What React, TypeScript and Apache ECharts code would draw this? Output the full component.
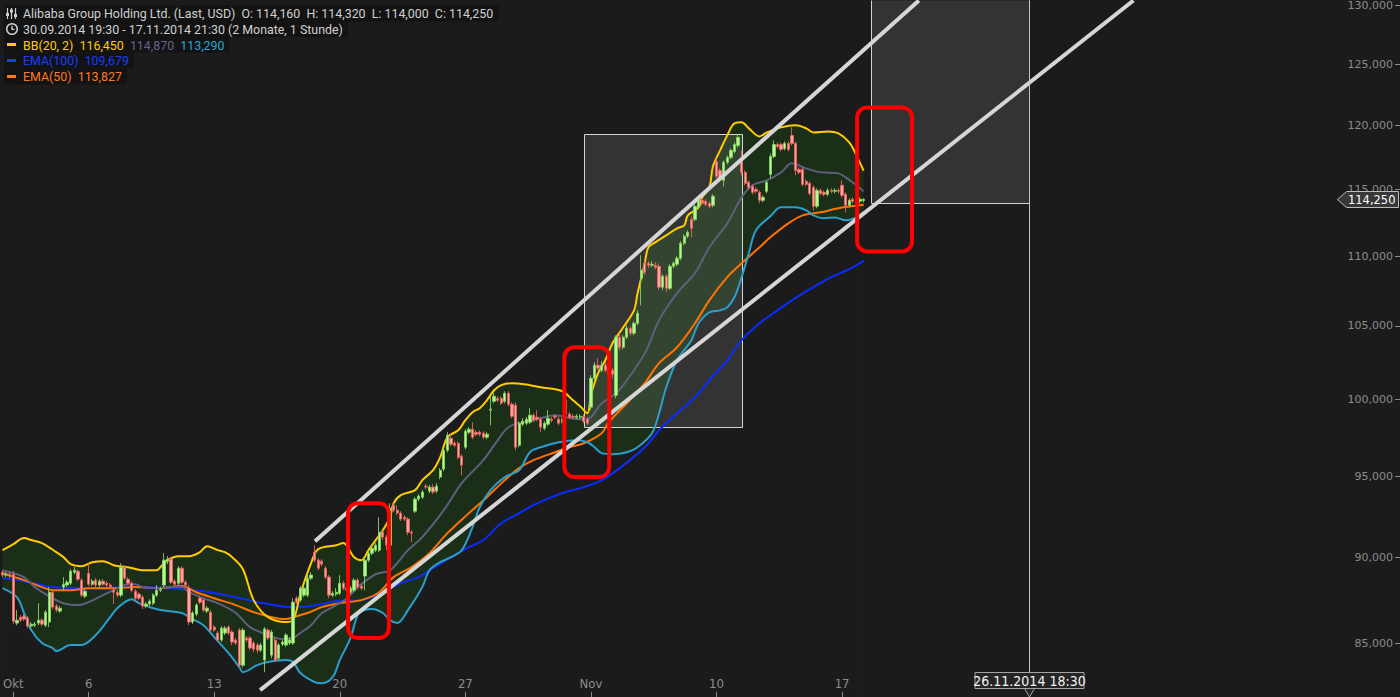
import React, { useEffect, useRef } from 'react';
import * as echarts from 'echarts';

// ---------- data (prices in USD, hourly bars, index 0 = 30.09.2014 19:30) ----------
// each candle: [open, close, low, high]
const candles: number[][] = [
  // Sep 30
  [89.11, 88.94, 88.82, 89.23], [88.94, 88.99, 88.82, 89.11], [88.99, 88.88, 88.76, 89.11],
  // Oct 1
  [88.99, 86.25, 86.08, 89.17], [86.14, 86.31, 86.02, 86.89], [86.48, 86.31, 86.2, 86.6], [86.54, 86.37, 86.25, 86.66],
  [86.43, 85.97, 85.85, 86.54], [85.97, 86.08, 85.85, 86.2], [86.02, 86.08, 85.91, 86.2],
  // Oct 2
  [86.14, 86.31, 86.02, 87.29], [86.31, 86.08, 85.97, 86.43], [86.02, 86.77, 85.91, 86.89], [86.2, 87.93, 85.91, 88.23],
  [87.93, 87.06, 86.95, 88.05], [87.12, 86.89, 86.77, 87.24], [86.83, 87.0, 86.72, 87.12],
  // Oct 3
  [88.23, 88.4, 88.05, 88.82], [88.35, 88.52, 88.23, 88.64], [88.46, 89.17, 88.35, 89.29], [89.11, 89.23, 88.99, 89.41],
  [89.17, 88.7, 88.58, 89.29], [88.64, 87.76, 87.64, 88.76], [87.7, 87.99, 87.58, 88.11],
  // Oct 6
  [89.05, 88.4, 88.29, 89.65], [88.4, 88.58, 88.29, 88.7], [88.64, 88.35, 88.23, 88.76], [88.35, 88.58, 88.23, 88.7],
  [88.58, 88.4, 88.29, 88.7], [88.46, 88.35, 88.17, 88.58], [88.35, 88.23, 88.11, 88.46],
  // Oct 7
  [88.05, 87.93, 87.24, 88.23], [87.93, 87.76, 87.64, 88.05], [87.76, 89.41, 87.64, 89.65], [89.41, 88.76, 88.64, 89.53],
  [88.7, 88.46, 88.35, 88.82], [88.46, 88.05, 87.93, 88.58], [87.99, 87.58, 87.35, 88.11],
  // Oct 8
  [87.82, 87.58, 87.47, 87.93], [87.64, 87.12, 86.95, 87.76], [87.12, 87.24, 87.0, 87.35], [87.24, 87.41, 87.12, 87.52],
  [87.29, 87.76, 87.18, 87.87], [87.76, 88.05, 87.64, 88.35], [88.05, 88.11, 87.93, 88.23],
  // Oct 9
  [88.35, 89.83, 88.23, 90.25], [89.77, 89.89, 89.59, 90.07], [89.89, 88.52, 88.4, 90.01], [88.58, 88.4, 88.29, 88.7],
  [88.46, 89.35, 88.35, 89.47], [89.35, 88.52, 88.4, 89.47], [88.52, 88.35, 88.23, 88.64],
  // Oct 10
  [88.17, 86.2, 86.02, 88.35], [86.2, 86.72, 86.08, 86.83], [86.66, 87.18, 86.54, 87.29], [87.58, 87.35, 87.24, 87.7],
  [87.47, 86.89, 86.77, 87.58], [86.83, 87.0, 86.72, 87.12], [86.77, 85.74, 85.63, 86.89],
  // Oct 13
  [85.91, 85.74, 85.63, 86.02], [85.57, 85.17, 85.06, 85.68], [85.17, 85.85, 85.06, 85.97], [85.57, 85.85, 85.46, 85.97],
  [85.91, 85.57, 85.46, 86.02], [85.63, 85.06, 84.89, 85.74], [85.17, 85.0, 84.89, 85.29],
  // Oct 14
  [85.74, 83.76, 83.65, 85.85], [83.76, 85.74, 83.65, 85.85], [85.29, 85.17, 85.06, 85.4], [85.29, 84.72, 84.6, 85.4],
  [85.0, 84.66, 84.49, 85.11], [84.89, 84.6, 84.43, 85.0], [84.6, 84.89, 84.49, 85.0],
  // Oct 15
  [84.04, 85.8, 83.37, 85.91], [85.74, 85.29, 85.17, 85.85], [84.32, 85.63, 84.15, 85.74], [85.17, 84.04, 83.93, 85.29],
  [84.15, 84.89, 84.04, 85.0], [84.94, 85.06, 84.83, 85.17], [84.89, 85.46, 84.77, 85.57],
  // Oct 16
  [85.0, 85.17, 84.89, 85.34], [85.0, 87.35, 84.89, 87.58], [87.58, 87.35, 87.24, 87.7], [87.47, 88.17, 87.35, 88.29],
  [87.76, 88.17, 87.64, 88.29], [87.76, 88.76, 87.64, 88.94], [88.76, 88.94, 88.64, 89.11],
  // Oct 17
  [90.31, 89.83, 89.71, 90.73], [89.83, 89.35, 89.23, 89.95], [89.77, 89.59, 89.47, 89.89], [89.35, 88.82, 88.7, 89.47],
  [88.82, 87.76, 87.58, 88.94], [87.76, 87.87, 87.64, 87.99], [87.82, 87.93, 87.7, 88.17],
  // Oct 20
  [87.87, 88.46, 87.76, 88.94], [88.46, 88.17, 88.05, 88.58], [88.17, 88.05, 87.93, 88.29], [87.93, 88.17, 87.82, 88.29],
  [88.05, 88.64, 87.93, 88.76], [88.64, 88.23, 88.11, 88.76], [88.29, 88.17, 88.05, 88.4],
  // Oct 21
  [88.88, 89.83, 88.05, 89.95], [89.83, 90.25, 89.71, 90.37], [90.25, 90.55, 90.13, 90.67], [90.43, 90.73, 90.31, 90.86],
  [90.43, 91.52, 90.31, 92.44], [91.52, 91.22, 91.04, 91.64], [91.22, 90.73, 90.43, 91.34],
  // Oct 22
  [90.73, 92.99, 90.55, 93.3], [93.18, 92.87, 92.75, 93.3], [92.87, 92.69, 92.56, 93.18], [92.69, 92.32, 92.2, 92.81],
  [92.44, 92.32, 92.2, 92.56], [92.32, 91.52, 91.34, 92.44], [91.52, 91.46, 90.92, 91.64],
  // Oct 23
  [92.81, 93.56, 92.69, 93.68], [93.56, 93.75, 93.43, 93.87], [93.68, 94.0, 93.56, 94.12], [94.37, 94.31, 94.18, 94.5],
  [94.06, 94.31, 93.93, 94.44], [94.31, 94.0, 93.87, 94.5], [94.06, 94.37, 93.93, 94.56],
  // Oct 24
  [94.94, 95.38, 94.81, 95.51], [95.45, 96.66, 95.32, 96.79], [96.66, 97.63, 96.53, 97.82], [97.43, 97.05, 96.92, 97.69],
  [97.11, 96.98, 96.85, 97.24], [97.11, 96.21, 96.08, 97.24], [96.27, 95.7, 95.07, 96.4],
  // Oct 27
  [96.85, 97.89, 96.72, 98.02], [97.82, 98.02, 97.69, 98.15], [98.02, 97.5, 97.37, 98.48], [97.82, 97.69, 97.56, 97.95],
  [97.82, 97.69, 97.56, 97.95], [97.76, 97.5, 97.37, 97.89], [97.5, 97.69, 97.37, 97.82],
  // Oct 28
  [99.27, 99.34, 98.28, 100.26], [99.86, 100.2, 99.73, 100.46], [100.06, 99.93, 99.8, 100.2], [100.06, 99.73, 99.6, 100.2],
  [99.86, 100.4, 99.73, 100.53], [100.4, 99.66, 99.53, 100.53], [99.66, 98.87, 98.74, 99.8],
  // Oct 29
  [99.6, 96.85, 96.66, 99.8], [96.98, 98.41, 96.85, 98.54], [98.35, 98.54, 98.21, 98.74], [98.41, 98.68, 98.28, 98.81],
  [98.48, 98.94, 98.35, 99.4], [98.94, 98.61, 98.48, 99.07], [98.81, 98.68, 98.54, 99.27],
  // Oct 30
  [98.68, 98.15, 97.82, 98.81], [98.08, 98.41, 97.95, 98.54], [98.35, 98.74, 98.21, 99.27], [98.68, 98.61, 98.48, 98.81],
  [98.87, 98.81, 98.68, 99.01], [98.68, 98.41, 98.28, 98.81], [98.54, 98.61, 98.41, 98.74],
  // Oct 31
  [99.93, 99.01, 98.74, 100.2], [99.01, 98.81, 98.68, 99.14], [98.87, 98.81, 98.68, 99.01], [98.81, 98.87, 98.68, 99.01],
  [98.81, 98.87, 98.68, 99.01], [98.87, 98.54, 98.41, 99.01], [98.68, 98.41, 98.28, 98.81],
  // Nov 3
  [99.47, 101.41, 99.27, 101.61], [101.41, 102.29, 101.27, 102.49], [102.29, 102.09, 101.95, 102.77], [101.95, 102.29, 101.81, 102.56],
  [102.29, 101.95, 101.81, 102.49], [102.02, 101.68, 101.54, 102.22], [101.95, 101.68, 101.41, 102.09],
  // Nov 4
  [100.26, 104.22, 100.06, 104.35], [104.22, 103.52, 103.31, 104.49], [103.52, 104.22, 103.38, 104.35], [104.22, 104.84, 104.08, 105.05],
  [104.84, 104.49, 104.35, 104.98], [104.49, 105.19, 104.35, 105.33], [105.19, 105.89, 105.05, 106.1],
  // Nov 5
  [108.4, 108.97, 106.45, 110.07], [109.48, 108.83, 108.61, 109.85], [109.48, 109.34, 109.12, 109.63], [109.34, 109.41, 109.19, 109.63],
  [109.34, 109.19, 109.05, 109.56], [109.26, 107.75, 107.53, 109.48], [107.75, 108.54, 107.53, 108.68],
  // Nov 6
  [108.54, 107.67, 107.39, 108.68], [107.67, 109.26, 107.53, 109.41], [109.26, 109.48, 109.12, 109.63], [109.41, 109.85, 109.26, 110.0],
  [109.85, 110.95, 109.7, 111.1], [110.95, 111.47, 110.8, 111.62], [111.47, 111.76, 111.32, 111.91],
  // Nov 7
  [112.73, 112.06, 111.39, 112.96], [112.73, 113.72, 112.58, 113.87], [113.64, 114.17, 113.49, 114.32], [114.17, 113.94, 113.79, 114.32],
  [114.1, 113.87, 113.72, 114.25], [113.94, 113.72, 113.57, 114.1], [113.79, 114.48, 113.64, 114.63],
  // Nov 10
  [117.17, 116.01, 115.86, 117.41], [116.47, 115.86, 115.7, 116.63], [115.7, 117.1, 115.24, 117.25], [117.1, 117.48, 116.94, 117.64],
  [117.48, 118.03, 117.33, 118.19], [117.95, 118.5, 117.8, 118.66], [118.42, 119.06, 118.26, 119.3],
  // Nov 11
  [117.17, 116.32, 116.09, 118.03], [116.32, 115.47, 115.32, 116.47], [115.55, 115.16, 115.01, 115.7], [115.24, 114.78, 114.63, 115.39],
  [115.01, 114.86, 114.7, 115.16], [114.78, 114.17, 113.94, 114.93], [114.17, 114.4, 114.02, 114.55],
  // Nov 12
  [114.86, 115.55, 114.7, 115.7], [116.16, 117.56, 115.86, 117.8], [117.56, 118.5, 117.41, 118.82], [118.5, 118.34, 118.19, 118.66],
  [118.5, 118.11, 117.95, 118.66], [118.19, 118.58, 118.03, 118.74], [118.58, 118.11, 117.95, 118.74],
  // Nov 13
  [119.22, 118.58, 118.42, 119.86], [118.58, 116.47, 116.09, 118.74], [116.55, 116.32, 116.16, 116.71], [116.55, 115.39, 115.24, 116.71],
  [115.62, 115.39, 115.24, 115.78], [115.47, 114.7, 114.55, 115.62], [115.16, 113.72, 113.41, 115.32],
  // Nov 14
  [113.72, 114.93, 113.57, 115.09], [114.93, 114.7, 114.55, 115.09], [114.78, 114.63, 114.48, 114.93], [114.63, 114.93, 114.48, 115.09],
  [114.93, 114.86, 114.7, 115.09], [114.86, 114.93, 114.7, 115.09], [114.93, 114.86, 114.7, 115.09],
  // Nov 17
  [115.32, 114.55, 114.4, 115.7], [114.63, 113.79, 113.26, 114.78], [113.79, 114.17, 113.64, 114.32], [114.25, 114.1, 113.94, 114.4],
  [114.1, 114.02, 113.87, 114.25], [114.1, 114.25, 113.94, 114.4], [114.16, 114.25, 114.0, 114.32],
];

// indicator readings: [bar index, price]
const bbUpper: number[][] = [
  [0, 90.43], [3, 90.79], [6, 91.16], [8, 91.04], [11, 90.86], [15, 90.31], [17, 90.01], [19, 89.59], [22, 89.47],
  [25, 89.71], [28, 89.77], [31, 89.53], [35, 89.41], [39, 89.23], [43, 89.23], [44, 89.41], [46, 89.83], [49, 90.07],
  [52, 90.07], [55, 90.31], [57, 90.67], [60, 90.43], [62, 90.31], [64, 90.01], [67, 89.29], [70, 87.47], [74, 86.48],
  [79, 86.2], [81, 86.31], [83, 87.82], [86, 89.65], [88, 90.49], [93, 90.73], [95, 90.86], [98, 90.0], [100, 89.83],
  [102, 90.43], [104, 91.04], [106, 91.64], [108, 92.44], [109, 93.3], [111, 93.81], [115, 94.12], [117, 94.75],
  [120, 95.38], [122, 96.21], [124, 97.5], [127, 97.95], [129, 98.61], [131, 99.14], [133, 99.4], [135, 99.93],
  [137, 100.6], [139, 100.94], [142, 101.07], [147, 100.94], [150, 100.8], [156, 100.53], [159, 99.93], [161, 99.53],
  [163, 99.07], [164, 100.26], [166, 101.75], [168, 102.63], [170, 103.8], [173, 104.91], [176, 106.1], [177, 107.32],
  [179, 109.48], [180, 110.65], [182, 111.03], [185, 111.54], [188, 112.06], [190, 112.28], [191, 113.03], [194, 113.64],
  [195, 114.4], [197, 115.16], [198, 116.78], [200, 118.03], [202, 119.22], [204, 120.18], [206, 120.26], [208, 119.78],
  [211, 119.14], [213, 119.46], [217, 119.86], [221, 120.02], [224, 119.78], [226, 119.46], [230, 119.54], [233, 119.38],
  [236, 118.66], [238, 117.64], [240, 116.45],
];
const bbMiddle: number[][] = [
  [0, 89.23], [6, 88.82], [9, 88.23], [14, 87.58], [17, 87.29], [21, 87.18], [24, 87.35], [28, 87.76], [31, 88.05],
  [35, 88.4], [37, 88.4], [39, 88.23], [43, 88.17], [46, 88.23], [50, 88.23], [52, 87.93], [56, 87.58], [60, 87.29],
  [65, 86.72], [69, 85.91], [74, 85.46], [78, 85.23], [81, 85.29], [83, 85.57], [86, 86.02], [89, 86.72], [92, 87.06],
  [96, 87.58], [99, 88.23], [104, 88.99], [108, 89.23], [113, 90.43], [117, 91.22], [123, 92.87], [128, 94.56],
  [134, 96.02], [138, 97.3], [141, 98.15], [145, 98.48], [149, 98.68], [154, 98.94], [157, 98.81], [161, 98.68],
  [163, 98.68], [167, 99.73], [171, 100.4], [174, 101.27], [179, 103.1], [183, 105.4], [188, 107.32], [193, 108.76],
  [197, 110.65], [202, 112.43], [206, 114.4], [209, 115.32], [213, 115.7], [217, 116.32], [220, 117.02], [224, 116.63],
  [228, 116.32], [233, 116.24], [235, 115.93], [238, 115.32], [240, 114.87],
];
const bbLower: number[][] = [
  [0, 88.17], [4, 87.64], [6, 86.72], [8, 85.74], [11, 85.0], [14, 84.72], [15, 84.55], [19, 84.89], [22, 84.89],
  [26, 85.46], [30, 86.48], [32, 87.0], [36, 87.52], [38, 87.29], [41, 87.06], [44, 86.89], [50, 86.72], [52, 86.48],
  [56, 86.02], [59, 85.34], [63, 84.43], [66, 83.65], [67, 83.37], [71, 83.76], [74, 83.93], [79, 84.04], [81, 83.93],
  [83, 83.32], [87, 82.82], [89, 82.76], [92, 83.09], [94, 84.04], [97, 85.29], [99, 86.6], [101, 86.89], [103, 86.95],
  [106, 86.72], [108, 86.31], [110, 86.14], [113, 86.89], [117, 88.23], [119, 89.23], [122, 89.71], [125, 90.01],
  [128, 90.43], [131, 91.83], [133, 93.05], [136, 94.12], [140, 94.94], [144, 95.38], [147, 96.53], [150, 96.85],
  [155, 97.17], [160, 97.3], [163, 97.17], [165, 96.85], [167, 96.47], [170, 96.4], [174, 96.53], [177, 96.85],
  [181, 97.76], [183, 99.07], [185, 100.8], [188, 102.63], [192, 104.01], [194, 105.19], [197, 105.96], [200, 106.1],
  [202, 106.31], [204, 107.03], [206, 108.47], [208, 110.21], [210, 111.91], [214, 112.96], [217, 113.64], [221, 113.64],
  [224, 113.41], [226, 113.03], [229, 112.81], [232, 112.88], [235, 112.66], [238, 112.88], [240, 113.29],
];
const ema50: number[][] = [
  [0, 89.05], [6, 88.64], [11, 88.23], [14, 88.05], [19, 88.05], [24, 88.17], [31, 88.17], [37, 88.23], [44, 88.17],
  [50, 88.29], [54, 87.93], [59, 87.58], [65, 87.18], [70, 86.77], [75, 86.48], [79, 86.37], [81, 86.48], [85, 86.72],
  [89, 87.06], [94, 87.29], [100, 87.47], [105, 87.93], [109, 88.82], [114, 89.41], [119, 90.25], [124, 91.46],
  [130, 92.69], [135, 93.68], [140, 94.75], [144, 95.51], [148, 96.02], [154, 96.53], [157, 96.79], [162, 97.11],
  [167, 97.76], [169, 98.48], [174, 99.73], [179, 101.07], [183, 102.43], [188, 103.52], [193, 105.19], [197, 106.81],
  [202, 108.47], [206, 109.48], [211, 110.65], [214, 111.39], [219, 112.43], [223, 113.03], [228, 113.26], [233, 113.57],
  [240, 113.827],
];
const ema100: number[][] = [
  [0, 88.76], [6, 88.58], [14, 88.23], [23, 88.17], [37, 88.23], [46, 88.17], [56, 87.99], [65, 87.64], [74, 87.24],
  [81, 87.06], [86, 87.12], [93, 87.41], [100, 87.47], [106, 87.93], [111, 88.46], [116, 88.82], [120, 89.35],
  [125, 90.01], [130, 90.61], [134, 91.04], [139, 92.07], [144, 92.69], [148, 93.18], [153, 93.68], [157, 94.0],
  [162, 94.31], [167, 94.75], [172, 95.51], [179, 96.85], [183, 97.95], [188, 99.07], [193, 100.13], [197, 101.27],
  [202, 102.63], [206, 104.01], [211, 105.19], [216, 106.1], [220, 106.81], [226, 107.75], [231, 108.47], [237, 109.19],
  [240, 109.679],
];
const bbUpperLast = 116.45;
const bbMiddleLast = 114.87;
const bbLowerLast = 113.29;

// axis ticks
const tickIdx = [3, 24, 59, 94, 129, 164, 199, 234];
const tickLabels = ['Okt', '6', '13', '20', '27', 'Nov', '10', '17'];
const priceTicks = [85, 90, 95, 100, 105, 110, 115, 120, 125, 130];

// drawings: [bar index, price]
const channelUpper: number[][] = [[87.1, 90.97], [255.4, 130.43]];
const channelLower: number[][] = [[71.8, 82.38], [315.2, 130.43]];
// [fromIdx, toIdx, lowPrice, highPrice]
const zoneBoxes: number[][] = [[162, 206, 98.15, 119.3], [242, 286, 113.94, 140]];
const redBoxes: number[][] = [[96.3, 107.7, 85.29, 93.3], [156.6, 169.1, 94.94, 103.52], [238.2, 253.5, 110.35, 121.46]];
const cursorIdx = 286;
const cursorLabel = '26.11.2014 18:30';
const rangeLabel = '30.09.2014 19:30 - 17.11.2014 21:30 (2 Monate, 1 Stunde)';
const titleLabel = 'Alibaba Group Holding Ltd. (Last, USD)';

const X_MIN = 0.08;
const X_MAX = 389.5;
const P_MIN = 82.0;
const P_MAX = 130.434;

const L = Math.log;
const fmt = (v: number) => v.toFixed(3).replace('.', ',');
const toLn = (arr: number[][]) => arr.map(([i, p]) => [i, L(p)]);

const BG = '#1b1b1b';
const LEG_FONT = 'Roboto';
const NARROW = '"Liberation Sans Narrow", "DejaVu Sans Condensed", sans-serif';

function buildOption() {
  const last = candles[candles.length - 1];
  const lastIdx = candles.length - 1;
  const header =
    `${titleLabel}  O: ${fmt(last[0])}  H: ${fmt(last[3])}  L: ${fmt(last[2])}  C: ${fmt(last[1])}`;

  const legendText = (y: number, text: string, fill: string, rich?: any) => ({
    type: 'text',
    x: 4,
    y,
    z: 100,
    style: {
      text,
      fill,
      fontSize: 12.4,
      fontFamily: LEG_FONT,
      verticalAlign: 'middle',
      backgroundColor: '#131313',
      padding: [2, 5, 1, 19],
      lineHeight: 13,
      rich,
    },
  });
  const richFont = { fontSize: 12.4, fontFamily: LEG_FONT };

  const graphic: any[] = [
    legendText(13.5, header, '#d0d0d0'),
    legendText(29, rangeLabel, '#d0d0d0'),
    legendText(
      44.5,
      `{y|BB(20, 2)  ${fmt(bbUpperLast)}}  {m|${fmt(bbMiddleLast)}}  {c|${fmt(bbLowerLast)}}`,
      '#ffcc00',
      {
        y: { fill: '#ffcc00', ...richFont },
        m: { fill: '#64648c', ...richFont },
        c: { fill: '#2aa3d2', ...richFont },
      }
    ),
    legendText(60.5, `EMA(100)  ${fmt(ema100[ema100.length - 1][1])}`, '#1a3cff'),
    legendText(76.5, `EMA(50)  ${fmt(ema50[ema50.length - 1][1])}`, '#ff7a1a'),
    // equalizer icon
    { type: 'line', z: 101, shape: { x1: 7.5, y1: 8, x2: 7.5, y2: 19 }, style: { stroke: '#cfcfcf', lineWidth: 1.2 } },
    { type: 'line', z: 101, shape: { x1: 11.5, y1: 8, x2: 11.5, y2: 19 }, style: { stroke: '#cfcfcf', lineWidth: 1.2 } },
    { type: 'line', z: 101, shape: { x1: 15.5, y1: 8, x2: 15.5, y2: 19 }, style: { stroke: '#cfcfcf', lineWidth: 1.2 } },
    { type: 'rect', z: 102, shape: { x: 6, y: 13, width: 3, height: 3 }, style: { fill: '#cfcfcf' } },
    { type: 'rect', z: 102, shape: { x: 10, y: 9.5, width: 3, height: 3 }, style: { fill: '#cfcfcf' } },
    { type: 'rect', z: 102, shape: { x: 14, y: 14, width: 3, height: 3 }, style: { fill: '#cfcfcf' } },
    // clock icon
    { type: 'circle', z: 101, shape: { cx: 12, cy: 29, r: 5.3 }, style: { fill: 'none', stroke: '#cfcfcf', lineWidth: 1.5 } },
    { type: 'polyline', z: 101, shape: { points: [[12, 25.8], [12, 29.3], [14.6, 29.3]] }, style: { fill: 'none', stroke: '#cfcfcf', lineWidth: 1.3 } },
    // colour dashes
    { type: 'rect', z: 101, shape: { x: 7, y: 43, width: 9, height: 3 }, style: { fill: '#ffcc00' } },
    { type: 'rect', z: 101, shape: { x: 7, y: 59, width: 9, height: 3 }, style: { fill: '#1a3cff' } },
    { type: 'rect', z: 101, shape: { x: 7, y: 75, width: 9, height: 3 }, style: { fill: '#ff7a1a' } },
  ];

  const lineSeries = (data: number[][], color: string, z: number, width = 2) => ({
    type: 'line',
    data: toLn(data),
    smooth: 0.35,
    symbol: 'none',
    silent: true,
    z,
    lineStyle: { color, width },
  });

  return {
    animation: false,
    backgroundColor: BG,
    grid: { left: 0, right: 0, top: 0, bottom: 0, containLabel: false },
    xAxis: {
      type: 'value',
      z: 10,
      min: X_MIN,
      max: X_MAX,
      axisLine: { show: false },
      splitLine: { show: false },
      axisTick: { show: true, inside: true, length: 5, lineStyle: { color: '#8a8a8a' }, customValues: tickIdx },
      axisLabel: {
        inside: true,
        margin: 7,
        color: '#8c8c8c',
        fontSize: 13,
        fontFamily: NARROW,
        customValues: tickIdx,
        formatter: (v: number) => {
          const k = tickIdx.indexOf(Math.round(v));
          return k >= 0 ? tickLabels[k] : '';
        },
      },
    },
    yAxis: {
      type: 'value',
      position: 'right',
      min: L(P_MIN),
      max: L(P_MAX),
      axisLine: { show: false },
      splitLine: { show: false },
      axisTick: { show: true, inside: true, length: 5, lineStyle: { color: '#8a8a8a' }, customValues: priceTicks.map(L) },
      axisLabel: {
        inside: true,
        margin: 7,
        color: '#8c8c8c',
        fontSize: 11,
        fontFamily: '"DejaVu Sans", sans-serif',
        customValues: priceTicks.map(L),
        formatter: (v: number) => fmt(Math.round(Math.exp(v) * 1000) / 1000),
      },
    },
    graphic,
    series: [
      // Bollinger band fill (upper area, then mask below lower band)
      {
        type: 'line', data: toLn(bbUpper), smooth: 0.35, symbol: 'none', silent: true, z: 1,
        lineStyle: { opacity: 0 }, areaStyle: { color: '#1b2f18', opacity: 1, origin: 'start' },
      },
      {
        type: 'line', data: toLn(bbLower), smooth: 0.35, symbol: 'none', silent: true, z: 1,
        lineStyle: { opacity: 0 }, areaStyle: { color: BG, opacity: 1, origin: 'start' },
      },
      // measured-move zones
      {
        type: 'custom', z: 2, silent: true, clip: true,
        data: zoneBoxes.map((b) => [b[0], b[1], L(b[2]), L(b[3])]),
        encode: { x: [0, 1], y: [2, 3] },
        renderItem: (params: any, api: any) => {
          const a = api.coord([api.value(0), api.value(3)]);
          const b = api.coord([api.value(1), api.value(2)]);
          const x0 = Math.round(a[0]) + 0.5, x1 = Math.round(b[0]) + 0.5;
          const y0 = Math.round(a[1]) + 0.5, y1 = Math.round(b[1]) + 0.5;
          return {
            type: 'rect',
            shape: { x: x0, y: y0, width: x1 - x0, height: y1 - y0 },
            style: { fill: 'rgba(255,255,255,0.105)', stroke: '#d4d4d4', lineWidth: 1 },
          };
        },
      },
      lineSeries(ema100, '#0a2dff', 3),
      lineSeries(ema50, '#ff7300', 3),
      lineSeries(bbMiddle, '#5f5f7d', 3),
      lineSeries(bbLower, '#2a9fcb', 3),
      lineSeries(bbUpper, '#ffcc00', 3),
      {
        type: 'candlestick',
        z: 4,
        silent: true,
        barWidth: 2.8,
        data: candles.map((c, i) => [i, L(c[0]), L(c[1]), L(c[2]), L(c[3])]),
        encode: { x: 0, y: [1, 2, 3, 4] },
        itemStyle: {
          color: '#b8f892',
          color0: '#ffa4a4',
          borderColor: '#84d35c',
          borderColor0: '#e86060',
          borderWidth: 0.9,
        },
      },
      // trend channel
      {
        type: 'line', data: toLn(channelUpper), symbol: 'none', silent: true, z: 5,
        lineStyle: { color: '#d6d6d6', width: 4, cap: 'butt' },
      },
      {
        type: 'line', data: toLn(channelLower), symbol: 'none', silent: true, z: 5,
        lineStyle: { color: '#d6d6d6', width: 4, cap: 'butt' },
      },
      // red highlight boxes
      {
        type: 'custom', z: 6, silent: true, clip: true,
        data: redBoxes.map((b) => [b[0], b[1], L(b[2]), L(b[3])]),
        encode: { x: [0, 1], y: [2, 3] },
        renderItem: (params: any, api: any) => {
          const a = api.coord([api.value(0), api.value(3)]);
          const b = api.coord([api.value(1), api.value(2)]);
          return {
            type: 'rect',
            shape: { x: a[0], y: a[1], width: b[0] - a[0], height: b[1] - a[1], r: 10 },
            style: { fill: 'none', stroke: '#ff0000', lineWidth: 4 },
          };
        },
      },
      // crosshair with date label
      {
        type: 'custom', z: 12, silent: true, clip: false,
        data: [[cursorIdx, L(100)]],
        encode: { x: 0, y: 1 },
        renderItem: (params: any, api: any) => {
          const cs = params.coordSys;
          const x = Math.round(api.coord([api.value(0), api.value(1)])[0]) + 0.5;
          const bottom = cs.y + cs.height;
          const boxTop = bottom - 24.5;
          return {
            type: 'group',
            children: [
              { type: 'line', shape: { x1: x, y1: cs.y, x2: x, y2: boxTop }, style: { stroke: '#c4c4c4', lineWidth: 1 } },
              {
                type: 'polygon',
                shape: { points: [[x - 5, boxTop + 16], [x + 5, boxTop + 16], [x, bottom]] },
                style: { fill: '#252525', stroke: '#a4a4a4', lineWidth: 1 },
              },
              {
                type: 'rect',
                shape: { x: x - 54.5, y: boxTop, width: 109, height: 16 },
                style: { fill: '#252525', stroke: '#a4a4a4', lineWidth: 1 },
              },
              {
                type: 'text',
                style: {
                  text: cursorLabel, x, y: boxTop + 8.5, fill: '#f2f2f2',
                  fontSize: 14, fontFamily: NARROW,
                  align: 'center', verticalAlign: 'middle',
                },
              },
            ],
          };
        },
      },
      // last price tag
      {
        type: 'custom', z: 12, silent: true, clip: false,
        data: [[lastIdx, L(last[1])]],
        encode: { x: 0, y: 1 },
        renderItem: (params: any, api: any) => {
          const cs = params.coordSys;
          const y = Math.round(api.coord([api.value(0), api.value(1)])[1]) + 0.5;
          const right = cs.x + cs.width - 1.5;
          return {
            type: 'group',
            children: [
              {
                type: 'polygon',
                shape: { points: [[right - 61, y], [right - 52, y - 8], [right, y - 8], [right, y + 8], [right - 52, y + 8]] },
                style: { fill: '#383838', stroke: '#bdbdbd', lineWidth: 1 },
              },
              {
                type: 'text',
                style: {
                  text: fmt(last[1]), x: right - 3, y: y + 0.5, fill: '#ffffff',
                  fontSize: 11.5, fontFamily: '"DejaVu Sans", sans-serif', align: 'right', verticalAlign: 'middle',
                },
              },
            ],
          };
        },
      },
    ],
  };
}

export default function App() {
  const ref = useRef<HTMLDivElement>(null);
  useEffect(() => {
    const chart = echarts.init(ref.current as HTMLDivElement, undefined, { renderer: 'svg' });
    chart.setOption(buildOption() as any);
    return () => chart.dispose();
  }, []);
  return <div ref={ref} style={{ position: 'fixed', left: 0, top: 0, width: 1400, height: 697 }} />;
}
